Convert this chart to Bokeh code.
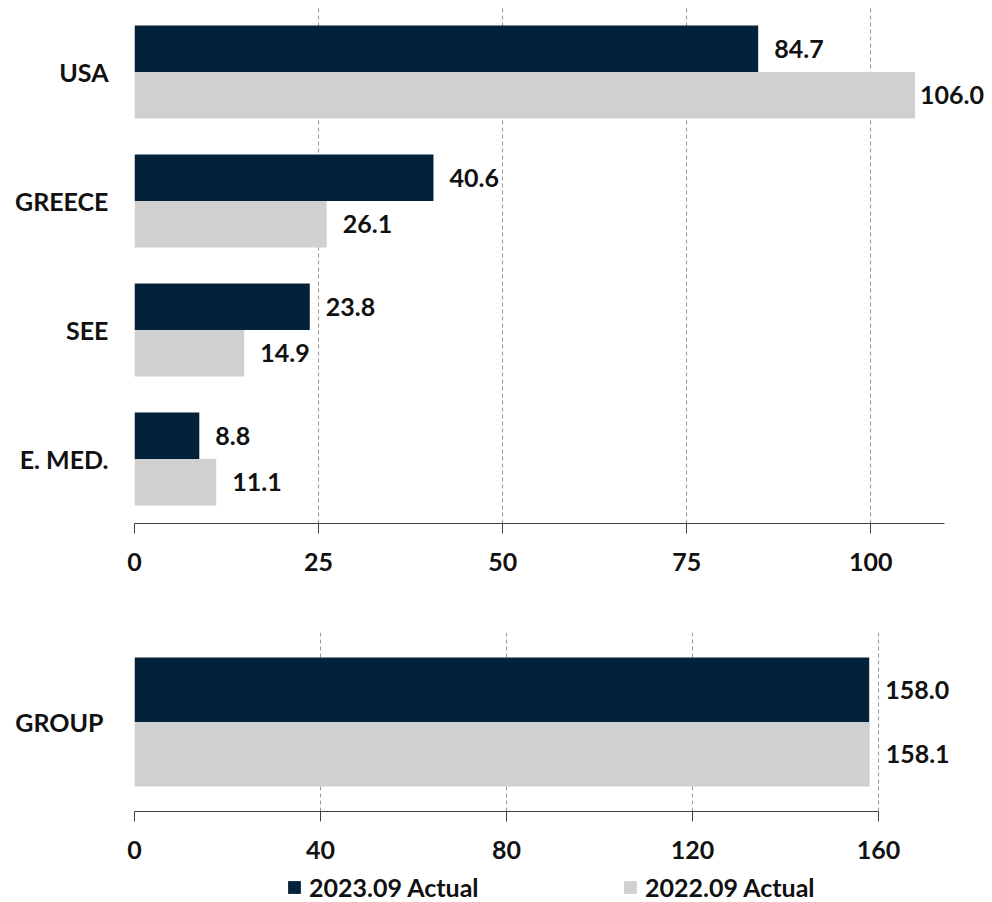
from bokeh.plotting import figure
from bokeh.models import (FactorRange, Range1d, FixedTicker, ColumnDataSource,
                          Legend, LegendItem, LabelSet)
from bokeh.transform import dodge
from bokeh.layouts import column
from bokeh.core.properties import value
from bokeh.embed import file_html
from bokeh.resources import INLINE

# Regional figures
regions = ["USA", "GREECE", "SEE", "E. MED."]
actual_2023 = [84.7, 40.6, 23.8, 8.8]
actual_2022 = [106.0, 26.1, 14.9, 11.1]
top_ticks = [0, 25, 50, 75, 100]
top_axis_max = 110

# Group total
group = ["GROUP"]
group_2023 = [158.0]
group_2022 = [158.1]
bottom_ticks = [0, 40, 80, 120, 160]
bottom_axis_max = 160

series_names = ["2023.09 Actual", "2022.09 Actual"]

DARK = "#03223a"
LIGHT = "#d0d0d0"
TEXT = "#111111"
FONT = "Lato"
FS = "25px"
BAR_H = 0.36

WIDTH = 992
LEFT = 134          # left border shared by all panels
PLOT_W = WIDTH - LEFT


def fmt(v):
    return f"{v:.1f}"


def label_offsets(vals, limit):
    # labels that would run past the axis end sit closer to their bar
    return [5 if v > limit else 16 for v in vals]


def style(p, ticks, axis_max, y_standoff):
    p.outline_line_color = None
    p.background_fill_color = None
    p.border_fill_color = "white"
    p.xgrid.ticker = FixedTicker(ticks=ticks)
    p.xgrid.grid_line_color = "#9a9a9a"
    p.xgrid.grid_line_dash = "4 3"
    p.xgrid.grid_line_width = 1
    p.ygrid.grid_line_color = None
    p.xaxis.ticker = FixedTicker(ticks=ticks)
    p.xaxis.bounds = (0, axis_max)
    p.xaxis.axis_line_color = "#404040"
    p.xaxis.axis_line_width = 1.2
    p.xaxis.major_tick_line_color = "#404040"
    p.xaxis.major_tick_in = 0
    p.xaxis.major_tick_out = 10
    p.xaxis.minor_tick_line_color = None
    p.xaxis.major_label_standoff = 19
    p.yaxis.axis_line_color = None
    p.yaxis.major_tick_line_color = None
    p.yaxis.minor_tick_line_color = None
    p.yaxis.major_label_standoff = y_standoff
    for ax in (p.xaxis, p.yaxis):
        ax.major_label_text_font = FONT
        ax.major_label_text_font_style = "bold"
        ax.major_label_text_font_size = FS
        ax.major_label_text_color = TEXT


def pair_source(cats, v_new, v_old, limit):
    return ColumnDataSource(dict(
        cat=cats,
        new=v_new,
        old=v_old,
        new_txt=[fmt(v) for v in v_new],
        old_txt=[fmt(v) for v in v_old],
        new_off=label_offsets(v_new, limit),
        old_off=label_offsets(v_old, limit),
    ))


def draw_bars(p, src, visible=True):
    r_new = p.hbar(y=dodge("cat", BAR_H / 2, range=p.y_range), left=0, right="new",
                   height=BAR_H, fill_color=DARK, line_color=None, source=src,
                   visible=visible)
    r_old = p.hbar(y=dodge("cat", -BAR_H / 2, range=p.y_range), left=0, right="old",
                   height=BAR_H, fill_color=LIGHT, line_color=None, source=src,
                   visible=visible)
    return r_new, r_old


def draw_labels(p, src):
    for col, sign in (("new", 1), ("old", -1)):
        labels = LabelSet(x=col, y=dodge("cat", sign * BAR_H / 2, range=p.y_range),
                          text=col + "_txt", x_offset=col + "_off",
                          text_baseline="middle", text_align="left",
                          text_font=value(FONT), text_font_style="bold",
                          text_font_size=FS, text_color=TEXT, source=src)
        p.add_layout(labels)


# the plotting area runs to the right edge so value labels have room;
# the axis itself stops at axis_max
top_px_per_unit = 810 / top_axis_max
top = figure(width=WIDTH, height=600,
             y_range=FactorRange(factors=list(reversed(regions)), range_padding=0),
             x_range=Range1d(0, PLOT_W / top_px_per_unit),
             output_backend="svg", toolbar_location=None,
             min_border_left=LEFT, min_border_right=0,
             min_border_top=7, min_border_bottom=77)
style(top, top_ticks, top_axis_max, 20)
top_src = pair_source(regions, actual_2023, actual_2022, 100)
draw_bars(top, top_src)
draw_labels(top, top_src)

bottom_px_per_unit = 744 / bottom_axis_max
bottom = figure(width=WIDTH, height=273,
                y_range=FactorRange(factors=group, range_padding=0),
                x_range=Range1d(0, PLOT_W / bottom_px_per_unit),
                output_backend="svg", toolbar_location=None,
                min_border_left=LEFT, min_border_right=0,
                min_border_top=32, min_border_bottom=62)
style(bottom, bottom_ticks, bottom_axis_max, 25)
group_src = pair_source(group, group_2023, group_2022, 1000)
draw_bars(bottom, group_src)
draw_labels(bottom, group_src)

# shared legend strip: hidden copies of the group series supply the swatches
key = figure(width=WIDTH, height=29,
             x_range=Range1d(0, 1),
             y_range=FactorRange(factors=group, range_padding=0),
             x_axis_type=None, y_axis_type=None,
             output_backend="svg", toolbar_location=None,
             min_border_left=LEFT, min_border_right=0,
             min_border_top=0, min_border_bottom=0)
key.outline_line_color = None
key.xgrid.grid_line_color = None
key.ygrid.grid_line_color = None
k_new, k_old = draw_bars(key, group_src, visible=False)

legend = Legend(
    items=[LegendItem(label=series_names[0], renderers=[k_new]),
           LegendItem(label=series_names[1], renderers=[k_old])],
    location=(152, 0), orientation="horizontal",
    glyph_width=16, glyph_height=16, label_standoff=7, label_width=195,
    spacing=118, padding=0, margin=0,
    border_line_color=None, background_fill_alpha=0,
    inactive_fill_alpha=0,
    label_text_font=FONT, label_text_font_style="bold", label_text_font_size=FS,
    label_text_color=TEXT,
)
key.add_layout(legend)

layout = column(top, bottom, key, spacing=0)
open("out.html", "w").write(file_html(layout, INLINE))
